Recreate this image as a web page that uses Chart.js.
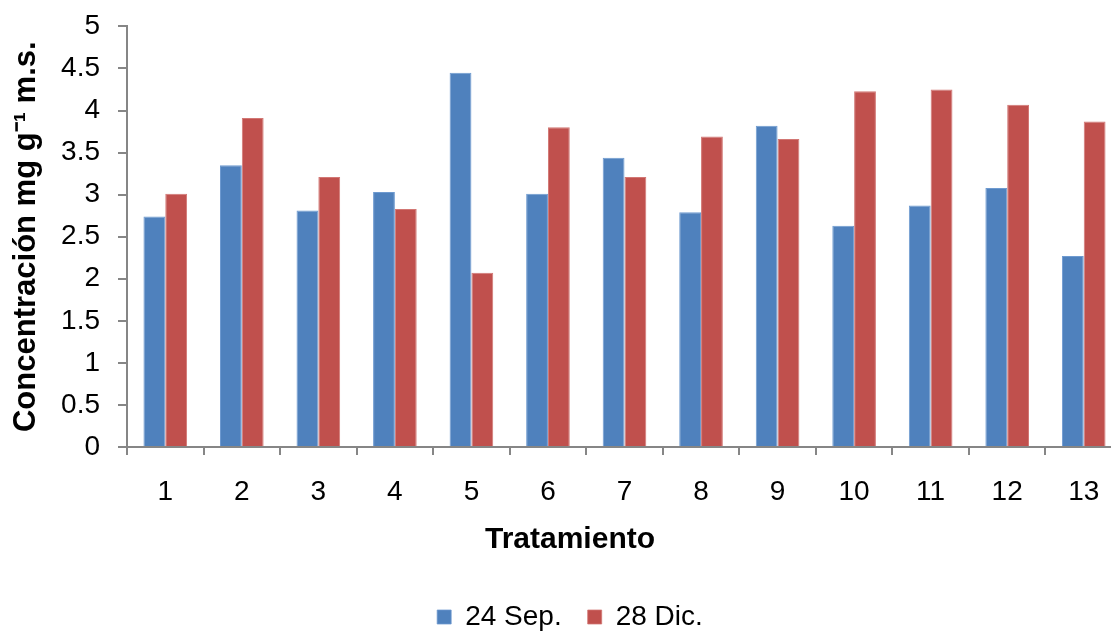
<!DOCTYPE html>
<html><head><meta charset="utf-8">
<script src="https://cdn.jsdelivr.net/npm/chart.js@4/dist/chart.umd.min.js"></script>
<style>html,body{margin:0;padding:0;overflow:hidden;background:#fff}#wrap{width:1122px;height:641px;position:relative}</style>
</head><body><div id="wrap"><canvas id="c"></canvas></div>
<script>
const categories = ['1','2','3','4','5','6','7','8','9','10','11','12','13'];
const sep24 = [2.74,3.35,2.81,3.03,4.45,3.01,3.44,2.79,3.82,2.63,2.87,3.08,2.27];
const dic28 = [3.01,3.91,3.21,2.83,2.07,3.80,3.21,3.69,3.66,4.23,4.25,4.07,3.87];
const seriesNames = ['24 Sep.','28 Dic.'];
const yMin = 0, yMax = 5, yStep = 0.5;
const xTitle = 'Tratamiento';
const yTitle = 'Concentración mg g\u207B\u00B9 m.s.';

const FONT = "'Liberation Sans', Arial, sans-serif";
const AXIS = '#868686';
Chart.defaults.font.family = FONT;
Chart.defaults.color = '#000';

new Chart(document.getElementById('c'), {
  type: 'bar',
  data: {
    labels: categories,
    datasets: [
      {label: seriesNames[0], data: sep24, backgroundColor: '#4F81BD', borderColor: '#6E9AD0', borderWidth: {left:1,right:1,top:1,bottom:0}},
      {label: seriesNames[1], data: dic28, backgroundColor: '#C0504D', borderColor: '#D27774', borderWidth: {left:1,right:1,top:1,bottom:0}}
    ]
  },
  options: {
    responsive: true,
    maintainAspectRatio: false,
    animation: false,
    layout: {padding: {left: 18, top: 0, right: 0, bottom: 0}},
    datasets: {bar: {categoryPercentage: 0.57, barPercentage: 1}},
    scales: {
      x: {
        grid: {display: true, drawOnChartArea: false, offset: true, tickLength: 8, color: AXIS, lineWidth: 2},
        border: {display: true, color: AXIS, width: 2},
        ticks: {font: {size: 28}, padding: 20, color: '#000', maxRotation: 0},
        afterFit: s => { s.height = 62; }
      },
      y: {
        min: yMin, max: yMax,
        grid: {display: true, drawOnChartArea: false, tickLength: 9, color: AXIS, lineWidth: 2},
        border: {display: true, color: AXIS, width: 2},
        ticks: {stepSize: yStep, font: {size: 28, lineHeight: 0.6}, padding: 18, color: '#000', callback: v => String(Number(v))},
        title: {display: true, text: yTitle, font: {size: 31, weight: 'bold'}, padding: {top: -10, bottom: 0}, color: '#000'},
        afterFit: s => { s.width = 109; }
      }
    },
    plugins: {
      tooltip: {enabled: false},
      title: {display: true, position: 'bottom', text: xTitle, weight: 500, font: {size: 30, weight: 'bold'}, padding: {top: 13, bottom: 19}, color: '#000'},
      legend: {position: 'bottom', labels: {boxWidth: 14, boxHeight: 14, font: {size: 28}, padding: 26, color: '#000'}}
    }
  }
});
</script>
</body></html>
